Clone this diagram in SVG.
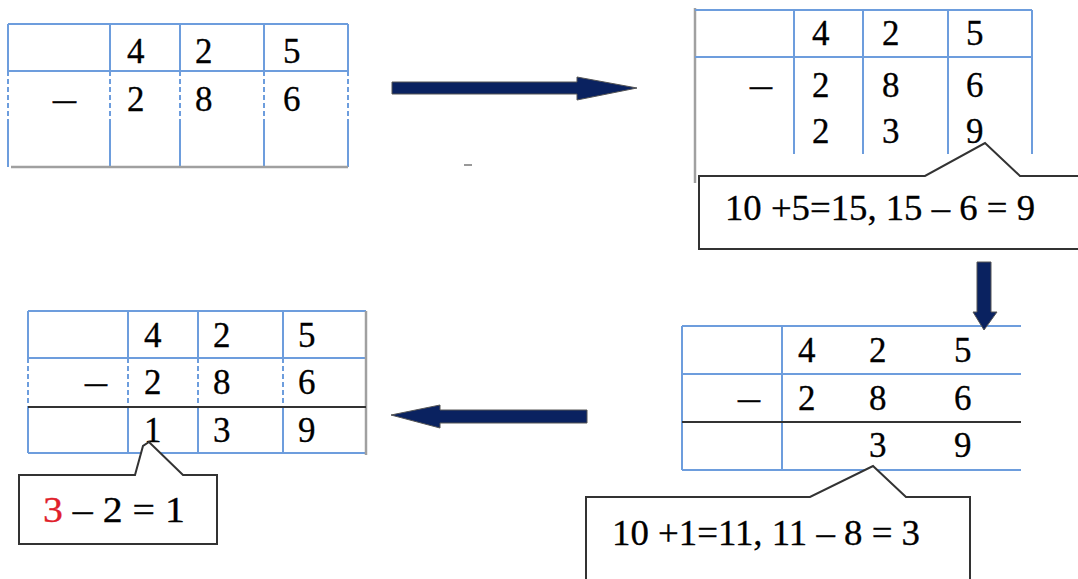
<svg xmlns="http://www.w3.org/2000/svg" width="1078" height="579" viewBox="0 0 1078 579">
<style>
.b{stroke:#6d9ddd;stroke-width:2;fill:none}
.d{stroke:#6d9ddd;stroke-width:2;fill:none;stroke-dasharray:5 3}
.k{stroke:#333;stroke-width:2;fill:none}
.g{stroke:#a0a0a0;stroke-width:2.5;fill:none}
.t{font-family:"Liberation Serif","Times New Roman",serif;font-size:35px;fill:#000;stroke:#000;stroke-width:0.3}
.c{font-family:"Liberation Serif","Times New Roman",serif;font-size:35px;fill:#000;stroke:#000;stroke-width:0.3}
.arr{fill:#0a2260;stroke:#555;stroke-width:1}
.co{fill:#fff;stroke:#333;stroke-width:2}
</style>
<rect width="1078" height="579" fill="#fff"/>

<g id="table1">
<path class="b" d="M8 24H348M8 71H348M8 24V71M110 24V71M180 24V71M264 24V71M348 24V71"/>
<path class="d" d="M8 71V122M110 71V122M180 71V122M264 71V122M348 71V122"/>
<path class="b" d="M8 122V167M110 122V167M180 122V167M264 122V167M348 122V167"/>
<path class="g" d="M11 167H348"/>
<text class="t" x="127" y="63">4</text>
<text class="t" x="195" y="63">2</text>
<text class="t" x="283" y="63">5</text>
<text class="t" x="53" y="111" textLength="23" lengthAdjust="spacingAndGlyphs">–</text>
<text class="t" x="127" y="111">2</text>
<text class="t" x="195" y="111">8</text>
<text class="t" x="283" y="111">6</text>
</g>

<path d="M464 165H472" stroke="#999" stroke-width="2"/>

<g id="table2">
<path class="g" d="M695 8V183" stroke-width="2"/>
<path class="b" d="M695 10H1032M695 57H1032M794 10V154M863 10V154M948 10V154M1032 10V154"/>
<text class="t" x="812" y="45">4</text>
<text class="t" x="882" y="45">2</text>
<text class="t" x="966" y="45">5</text>
<text class="t" x="750" y="97" textLength="22" lengthAdjust="spacingAndGlyphs">–</text>
<text class="t" x="812" y="97">2</text>
<text class="t" x="882" y="97">8</text>
<text class="t" x="966" y="97">6</text>
<text class="t" x="812" y="143">2</text>
<text class="t" x="882" y="143">3</text>
<text class="t" x="966" y="143">9</text>
</g>

<g id="callout1">
<path class="co" d="M1080 176H1020L985 143L925 176H699V249H1080"/>
<text class="c" x="725" y="220" textLength="310" lengthAdjust="spacingAndGlyphs">10 +5=15, 15 – 6 = 9</text>
</g>

<g id="table3">
<path class="b" d="M682 326H1021M682 374H1021M682 470H1021M682 326V470M782 326V470"/>
<path class="k" d="M682 422H1021"/>
<text class="t" x="798" y="362">4</text>
<text class="t" x="869" y="362">2</text>
<text class="t" x="954" y="362">5</text>
<text class="t" x="738" y="410" textLength="22" lengthAdjust="spacingAndGlyphs">–</text>
<text class="t" x="798" y="410">2</text>
<text class="t" x="869" y="410">8</text>
<text class="t" x="954" y="410">6</text>
<text class="t" x="869" y="457">3</text>
<text class="t" x="954" y="457">9</text>
</g>

<g id="callout2">
<path class="co" d="M586 590V497H810L873 466L906 497H970V590"/>
<text class="c" x="612" y="545" textLength="308" lengthAdjust="spacingAndGlyphs">10 +1=11, 11 – 8 = 3</text>
</g>

<g id="table4">
<path class="b" d="M28 311H366M28 358H366M28 453H366M28 311V358M128 311V358M198 311V358M283 311V358M28 407V453M128 407V453M198 407V453M283 407V453"/>
<path class="d" d="M28 358V407M128 358V407M198 358V407M283 358V407"/>
<path class="g" d="M366 311V455" stroke-width="2"/>
<path class="k" d="M28 407H366"/>
<text class="t" x="144" y="347">4</text>
<text class="t" x="213" y="347">2</text>
<text class="t" x="298" y="347">5</text>
<text class="t" x="85" y="394" textLength="22" lengthAdjust="spacingAndGlyphs">–</text>
<text class="t" x="144" y="394">2</text>
<text class="t" x="213" y="394">8</text>
<text class="t" x="298" y="394">6</text>
<text class="t" x="144" y="442">1</text>
<text class="t" x="213" y="442">3</text>
<text class="t" x="298" y="442">9</text>
</g>

<g id="callout3">
<path class="co" d="M19 475H135L143 446L149 442L183 475H217V544H19Z"/>
<text class="c" x="43" y="522" textLength="142" lengthAdjust="spacingAndGlyphs"><tspan fill="#e0202a" stroke="#e0202a">3</tspan> – 2 = 1</text>
</g>

<g id="connectors">
<polygon class="arr" points="392,82 577,82 577,77 637,88 577,100 577,94 392,94"/>
<polygon class="arr" points="977,262 991,262 991,312 997,312 984,330 973,312 977,312"/>
<polygon class="arr" points="587,410 440,410 440,405 391,415 440,428 440,423 587,423"/>
</g>
</svg>
